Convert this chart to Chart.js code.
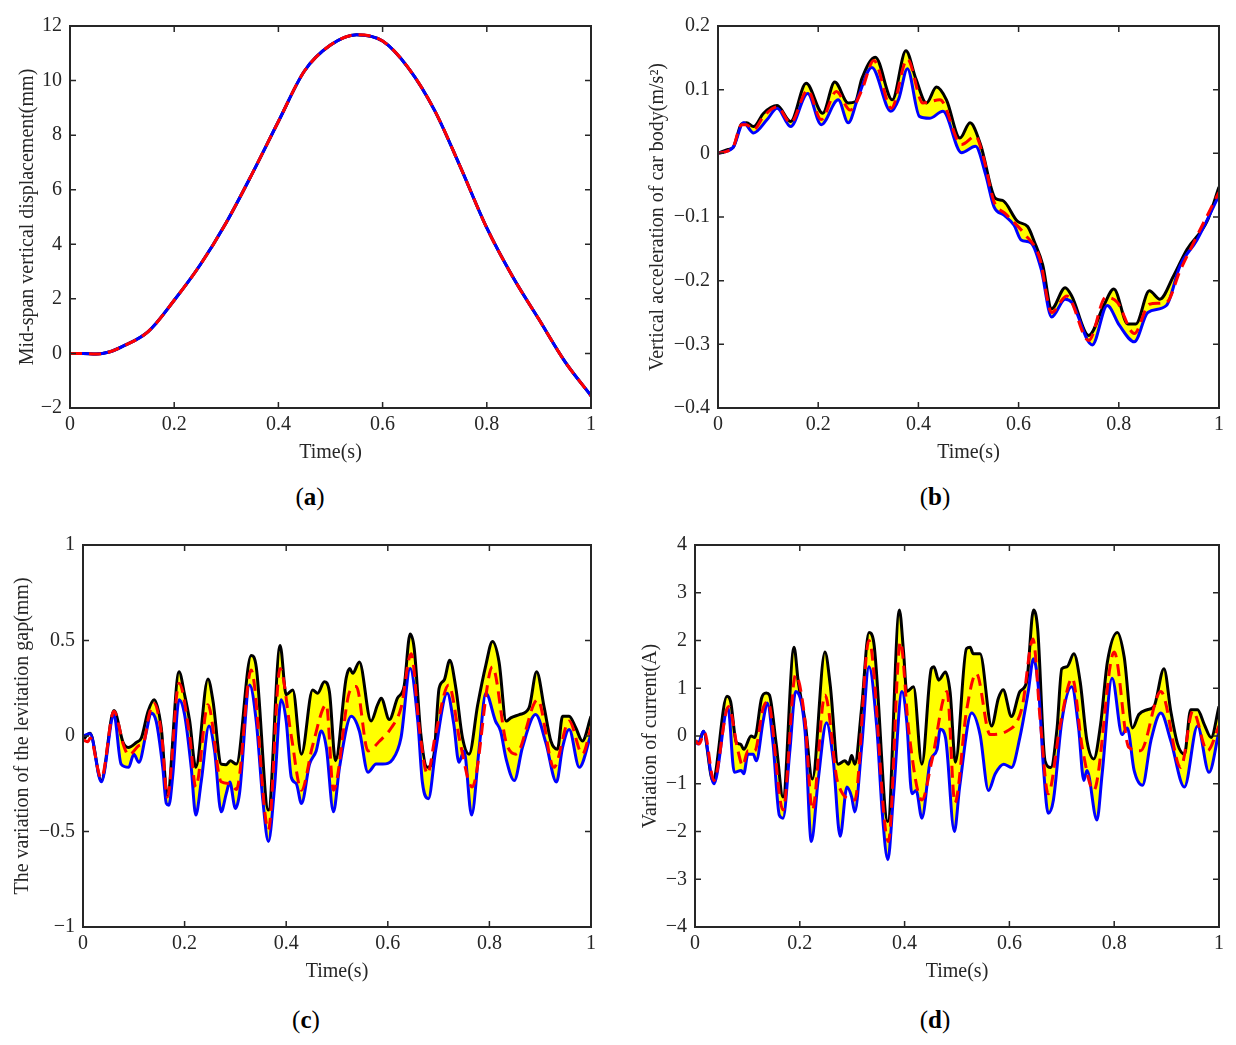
<!DOCTYPE html>
<html>
<head>
<meta charset="utf-8">
<script src="https://cdn.jsdelivr.net/npm/chart.js@4.4.1/dist/chart.umd.min.js"></script>
<style>
  body { margin: 0; background: #fff; width: 1236px; height: 1045px; position: relative; overflow: hidden; font-family: "Liberation Serif", serif; }
  .panel { position: absolute; }
  .tag { position: absolute; font-size: 25px; color: #000; transform: translateX(-50%); line-height: 28px; }
</style>
</head>
<body>
<div class="panel" id="pa"><canvas id="chartA"></canvas></div>
<div class="panel" id="pb"><canvas id="chartB"></canvas></div>
<div class="panel" id="pc"><canvas id="chartC"></canvas></div>
<div class="panel" id="pd"><canvas id="chartD"></canvas></div>
<div class="tag" style="left:310px;top:483px">(<b>a</b>)</div>
<div class="tag" style="left:935px;top:483px">(<b>b</b>)</div>
<div class="tag" style="left:306px;top:1006px">(<b>c</b>)</div>
<div class="tag" style="left:935px;top:1006px">(<b>d</b>)</div>
<script>
// ---- data: [time (s), value] ----
const timeTicks = [0, 0.2, 0.4, 0.6, 0.8, 1];
const dispTicks = [-2, 0, 2, 4, 6, 8, 10, 12];
const accTicks = [-0.4, -0.3, -0.2, -0.1, 0, 0.1, 0.2];
const gapTicks = [-1, -0.5, 0, 0.5, 1];
const currTicks = [-4, -3, -2, -1, 0, 1, 2, 3, 4];

// (a) mid-span displacement: upper, lower and mean coincide
const dispMean = [[0,0],[0.025,0],[0.05,-0.02],[0.075,0.05],[0.1,0.25],[0.15,0.8],[0.2,1.95],[0.25,3.25],[0.3,4.8],[0.35,6.6],[0.4,8.5],[0.45,10.35],[0.5,11.3],[0.55,11.68],[0.6,11.45],[0.65,10.45],[0.7,8.9],[0.75,6.8],[0.8,4.6],[0.85,2.8],[0.9,1.25],[0.95,-0.3],[1,-1.55]];

// (b) vertical acceleration of car body
const accUpper = [[0,0],[0.02,0.006],[0.03,0.009],[0.047,0.046],[0.057,0.048],[0.071,0.042],[0.091,0.063],[0.118,0.075],[0.145,0.05],[0.176,0.11],[0.209,0.063],[0.233,0.112],[0.26,0.079],[0.274,0.081],[0.287,0.117],[0.314,0.151],[0.348,0.084],[0.375,0.161],[0.395,0.117],[0.416,0.079],[0.436,0.104],[0.456,0.084],[0.483,0.024],[0.503,0.048],[0.524,0.014],[0.554,-0.071],[0.568,-0.074],[0.598,-0.107],[0.618,-0.115],[0.632,-0.14],[0.648,-0.175],[0.666,-0.244],[0.693,-0.211],[0.706,-0.224],[0.74,-0.286],[0.77,-0.239],[0.79,-0.213],[0.818,-0.268],[0.834,-0.268],[0.861,-0.216],[0.882,-0.229],[0.909,-0.193],[0.936,-0.151],[0.976,-0.107],[1,-0.053]];
const accLower = [[0,0],[0.03,0.009],[0.051,0.048],[0.071,0.032],[0.098,0.053],[0.118,0.071],[0.145,0.042],[0.179,0.094],[0.206,0.045],[0.24,0.084],[0.26,0.048],[0.28,0.089],[0.307,0.135],[0.345,0.066],[0.361,0.086],[0.378,0.133],[0.402,0.058],[0.422,0.055],[0.449,0.066],[0.486,0.001],[0.514,0.011],[0.534,-0.033],[0.551,-0.084],[0.571,-0.097],[0.591,-0.113],[0.605,-0.136],[0.625,-0.141],[0.645,-0.182],[0.666,-0.257],[0.693,-0.229],[0.706,-0.234],[0.747,-0.301],[0.777,-0.239],[0.801,-0.27],[0.831,-0.296],[0.858,-0.25],[0.895,-0.239],[0.922,-0.177],[0.956,-0.136],[1,-0.066]];
const accMean = [[0,0],[0.02,0.004],[0.03,0.009],[0.047,0.045],[0.057,0.045],[0.071,0.037],[0.091,0.058],[0.118,0.073],[0.145,0.048],[0.179,0.099],[0.206,0.053],[0.236,0.097],[0.264,0.068],[0.287,0.099],[0.311,0.146],[0.346,0.071],[0.378,0.148],[0.409,0.079],[0.443,0.084],[0.486,0.014],[0.514,0.027],[0.53,-0.007],[0.551,-0.076],[0.574,-0.095],[0.611,-0.126],[0.642,-0.164],[0.666,-0.25],[0.696,-0.224],[0.74,-0.294],[0.774,-0.226],[0.797,-0.234],[0.831,-0.283],[0.861,-0.237],[0.895,-0.234],[0.922,-0.185],[0.949,-0.141],[1,-0.061]];

// (c) variation of the levitation gap
const gapUpper = [[0,-0.02],[0.014,0.014],[0.036,-0.233],[0.061,0.133],[0.079,-0.034],[0.089,-0.06],[0.105,-0.034],[0.115,-0.009],[0.128,0.129],[0.14,0.19],[0.154,0.043],[0.166,-0.31],[0.189,0.336],[0.2,0.216],[0.21,0.078],[0.222,-0.164],[0.246,0.298],[0.256,0.181],[0.272,-0.147],[0.282,-0.15],[0.29,-0.13],[0.302,-0.147],[0.331,0.422],[0.341,0.362],[0.365,-0.388],[0.388,0.474],[0.4,0.216],[0.413,0.241],[0.43,-0.095],[0.452,0.241],[0.462,0.224],[0.475,0.284],[0.485,0.233],[0.497,-0.129],[0.518,0.302],[0.525,0.353],[0.531,0.328],[0.544,0.388],[0.567,0.078],[0.58,0.164],[0.587,0.198],[0.603,0.086],[0.619,0.198],[0.632,0.259],[0.644,0.534],[0.652,0.457],[0.665,0.009],[0.678,-0.164],[0.691,-0.095],[0.701,0.25],[0.711,0.293],[0.722,0.397],[0.734,0.25],[0.747,-0.009],[0.76,-0.095],[0.777,0.164],[0.793,0.371],[0.806,0.495],[0.819,0.388],[0.833,0.078],[0.842,0.095],[0.859,0.112],[0.878,0.147],[0.893,0.336],[0.908,0.147],[0.921,-0.026],[0.934,-0.069],[0.944,0.103],[0.957,0.103],[0.97,0.043],[0.983,-0.026],[1,0.103]];
const gapLower = [[0,0],[0.014,0.012],[0.036,-0.24],[0.061,0.11],[0.075,-0.147],[0.09,-0.164],[0.1,-0.095],[0.11,-0.138],[0.125,0.026],[0.134,0.121],[0.144,0.078],[0.157,-0.164],[0.164,-0.353],[0.169,-0.362],[0.177,-0.198],[0.189,0.19],[0.2,0.112],[0.213,-0.164],[0.222,-0.414],[0.233,-0.233],[0.248,0.052],[0.259,-0.078],[0.272,-0.397],[0.282,-0.302],[0.289,-0.241],[0.3,-0.379],[0.308,-0.302],[0.328,0.267],[0.341,0.078],[0.354,-0.336],[0.365,-0.552],[0.377,-0.267],[0.39,0.19],[0.4,0.078],[0.41,-0.216],[0.42,-0.25],[0.43,-0.353],[0.446,-0.147],[0.459,-0.078],[0.469,0.026],[0.479,-0.06],[0.493,-0.397],[0.505,-0.164],[0.528,0.103],[0.544,0.026],[0.561,-0.19],[0.577,-0.147],[0.59,-0.147],[0.61,-0.121],[0.626,-0.009],[0.644,0.353],[0.659,0.078],[0.668,-0.241],[0.68,-0.328],[0.694,-0.078],[0.717,0.224],[0.73,0.06],[0.74,-0.138],[0.75,-0.078],[0.765,-0.414],[0.78,-0.06],[0.793,0.224],[0.812,0.078],[0.822,0.026],[0.833,-0.121],[0.849,-0.233],[0.865,-0.06],[0.891,0.112],[0.911,-0.034],[0.932,-0.241],[0.944,-0.06],[0.957,0.034],[0.977,-0.164],[1,0.009]];
const gapMean = [[0,-0.02],[0.01,-0.03],[0.014,-0.01],[0.036,-0.22],[0.061,0.13],[0.08,-0.05],[0.09,-0.1],[0.11,-0.05],[0.12,-0.03],[0.13,0.11],[0.14,0.17],[0.155,0],[0.166,-0.32],[0.189,0.276],[0.21,0],[0.222,-0.267],[0.246,0.164],[0.272,-0.24],[0.29,-0.25],[0.302,-0.28],[0.331,0.345],[0.365,-0.491],[0.388,0.353],[0.41,0],[0.43,-0.284],[0.452,-0.05],[0.479,0.164],[0.493,-0.284],[0.525,0.233],[0.538,0.259],[0.561,-0.078],[0.584,-0.026],[0.607,0.043],[0.626,0.147],[0.646,0.431],[0.662,0.043],[0.678,-0.198],[0.694,0.009],[0.72,0.267],[0.743,-0.043],[0.766,-0.267],[0.806,0.362],[0.833,-0.034],[0.852,-0.095],[0.895,0.19],[0.927,-0.164],[0.957,0.078],[0.983,-0.095],[1,0.043]];

// (d) variation of current
const currUpper = [[0,-0.1],[0.008,-0.14],[0.016,0.1],[0.034,-0.93],[0.061,0.83],[0.068,0.72],[0.079,-0.14],[0.087,-0.17],[0.093,-0.28],[0.107,0],[0.114,-0.03],[0.127,0.79],[0.136,0.9],[0.142,0.86],[0.155,-0.17],[0.168,-1.28],[0.189,1.86],[0.197,1.14],[0.21,0.31],[0.224,-0.9],[0.248,1.76],[0.258,1.07],[0.273,-0.59],[0.286,-0.52],[0.293,-0.59],[0.299,-0.41],[0.305,-0.59],[0.318,0.59],[0.332,2.17],[0.341,1.97],[0.368,-1.79],[0.39,2.64],[0.398,1.76],[0.404,0.93],[0.417,1.03],[0.433,-0.59],[0.451,1.41],[0.456,1.45],[0.465,1.17],[0.478,1.34],[0.487,0.9],[0.497,-0.55],[0.518,1.83],[0.525,1.86],[0.531,1.72],[0.544,1.72],[0.566,0.21],[0.579,0.79],[0.588,0.97],[0.604,0.41],[0.62,0.93],[0.633,1.14],[0.646,2.64],[0.654,2.24],[0.668,-0.52],[0.679,-0.66],[0.691,0.17],[0.7,1.41],[0.71,1.45],[0.723,1.72],[0.735,1.14],[0.748,-0.1],[0.761,-0.48],[0.774,0.24],[0.787,1.55],[0.806,2.17],[0.819,1.66],[0.835,0.17],[0.847,0.45],[0.863,0.55],[0.876,0.62],[0.895,1.41],[0.908,0.52],[0.921,-0.17],[0.934,-0.38],[0.946,0.55],[0.959,0.55],[0.972,0.24],[0.985,-0.03],[1,0.62]];
const currLower = [[0,-0.1],[0.006,-0.17],[0.016,0.1],[0.036,-1],[0.063,0.59],[0.075,-0.76],[0.088,-0.72],[0.093,-0.79],[0.101,-0.38],[0.111,-0.38],[0.117,-0.52],[0.13,0.31],[0.138,0.69],[0.149,-0.17],[0.161,-1.66],[0.168,-1.72],[0.181,-0.31],[0.192,0.93],[0.21,0.1],[0.222,-2.21],[0.235,-0.93],[0.251,0.28],[0.264,-0.52],[0.277,-2.1],[0.29,-1.07],[0.299,-1.28],[0.305,-1.59],[0.318,-0.24],[0.332,1.45],[0.347,0.17],[0.357,-1.55],[0.368,-2.59],[0.379,-1.21],[0.395,0.93],[0.404,0.31],[0.414,-1.21],[0.422,-1.14],[0.433,-1.72],[0.449,-0.52],[0.462,-0.28],[0.468,0.14],[0.478,-0.03],[0.495,-2],[0.505,-1.07],[0.528,0.48],[0.544,0.03],[0.56,-1.14],[0.573,-0.79],[0.589,-0.59],[0.604,-0.66],[0.62,-0.03],[0.636,0.93],[0.646,1.62],[0.656,0.93],[0.665,-0.66],[0.674,-1.62],[0.684,-1.34],[0.7,0.31],[0.719,1.03],[0.732,0.17],[0.742,-0.93],[0.748,-0.72],[0.767,-1.76],[0.777,-0.79],[0.796,1.21],[0.815,0.03],[0.825,0.17],[0.838,-0.72],[0.854,-1.03],[0.87,-0.1],[0.889,0.48],[0.908,-0.1],[0.934,-1.07],[0.959,0.21],[0.981,-0.76],[1,0.1]];
const currMean = [[0,-0.1],[0.008,-0.17],[0.018,0.07],[0.036,-0.93],[0.064,0.62],[0.082,-0.31],[0.091,-0.62],[0.101,-0.31],[0.114,-0.31],[0.13,0.59],[0.139,0.72],[0.168,-1.55],[0.192,1.28],[0.21,0.31],[0.224,-1.55],[0.248,0.86],[0.273,-1],[0.305,-1.34],[0.332,2],[0.369,-2.21],[0.392,1.97],[0.408,0.1],[0.433,-1.34],[0.452,-0.52],[0.481,0.93],[0.496,-1.4],[0.518,0.52],[0.537,1.31],[0.563,0.03],[0.595,0.1],[0.624,0.59],[0.645,2.03],[0.659,0.31],[0.674,-1.21],[0.697,0.24],[0.72,1.21],[0.739,-0.24],[0.761,-1.14],[0.8,1.76],[0.828,-0.24],[0.85,-0.31],[0.889,0.93],[0.927,-0.66],[0.95,0.52],[0.978,-0.31],[1,0.21]];

// ---- layout: plot box in page pixels, width kept for the y axis ----
const PAD_TOP = 14, PAD_RIGHT = 14, X_AXIS_H = 57;
const FONT = '"Liberation Serif", "Times New Roman", serif';
const INK = '#262626';

const boxPlugin = {
  id: 'matlabBox',
  afterDraw(chart) {
    const { ctx, chartArea: a, scales: { x, y } } = chart;
    ctx.save();
    ctx.strokeStyle = INK;
    ctx.lineWidth = 1.5;
    ctx.beginPath();
    x.ticks.forEach(t => {
      const px = x.getPixelForValue(t.value);
      ctx.moveTo(px, a.bottom); ctx.lineTo(px, a.bottom - 6);
      ctx.moveTo(px, a.top); ctx.lineTo(px, a.top + 6);
    });
    y.ticks.forEach(t => {
      const py = y.getPixelForValue(t.value);
      ctx.moveTo(a.left, py); ctx.lineTo(a.left + 6, py);
      ctx.moveTo(a.right, py); ctx.lineTo(a.right - 6, py);
    });
    ctx.stroke();
    ctx.lineWidth = 2;
    ctx.strokeRect(a.left, a.top, a.right - a.left, a.bottom - a.top);
    ctx.restore();
  }
};

const fmt = v => (v < 0 ? '\u2212' : '') + Math.abs(v);
const toXY = pts => pts.map(([x, y]) => ({ x, y }));

function makePanel(divId, canvasId, box, yTicks, yTitle, upper, lower, mean) {
  const div = document.getElementById(divId);
  div.style.left = (box.left - box.yw) + 'px';
  div.style.top = (box.top - PAD_TOP) + 'px';
  div.style.width = (box.yw + box.right - box.left + PAD_RIGHT) + 'px';
  div.style.height = (PAD_TOP + box.bottom - box.top + X_AXIS_H) + 'px';

  const line = { pointRadius: 0, cubicInterpolationMode: 'monotone', borderWidth: 3 };
  const noGrid = { display: false, drawTicks: false, tickLength: 0 };
  return new Chart(document.getElementById(canvasId), {
    type: 'line',
    data: {
      datasets: [
        { ...line, data: toXY(upper), borderColor: '#000000', backgroundColor: '#ffff00', fill: 1, order: 3 },
        { ...line, data: toXY(lower), borderColor: '#0000ff', fill: false, order: 2 },
        { ...line, data: toXY(mean), borderColor: '#ff0000', borderDash: [12, 7], fill: false, order: 1 }
      ]
    },
    options: {
      responsive: true,
      maintainAspectRatio: false,
      animation: false,
      layout: { padding: { top: PAD_TOP, right: PAD_RIGHT, left: 0, bottom: 0 } },
      plugins: {
        legend: { display: false },
        tooltip: { enabled: false },
        filler: { drawTime: 'beforeDatasetsDraw' }
      },
      scales: {
        x: {
          type: 'linear', min: 0, max: 1,
          grid: noGrid,
          border: { display: false },
          afterBuildTicks: s => { s.ticks = timeTicks.map(v => ({ value: v })); },
          afterFit: s => { s.height = X_AXIS_H; },
          ticks: { font: { family: FONT, size: 20 }, color: INK, padding: 5, maxRotation: 0, callback: fmt },
          title: { display: true, text: 'Time(s)', font: { family: FONT, size: 20 }, color: INK, padding: 0 }
        },
        y: {
          type: 'linear', min: yTicks[0], max: yTicks[yTicks.length - 1],
          grid: noGrid,
          border: { display: false },
          afterBuildTicks: s => { s.ticks = yTicks.map(v => ({ value: v })); },
          afterFit: s => { s.width = box.yw; },
          ticks: { font: { family: FONT, size: 20 }, color: INK, padding: 8, callback: fmt },
          title: { display: true, text: yTitle, font: { family: FONT, size: 20 }, color: INK, padding: 0 }
        }
      }
    },
    plugins: [boxPlugin]
  });
}

makePanel('pa', 'chartA', { left: 70, right: 591, top: 20, bottom: 408, yw: 54 }, dispTicks,
  'Mid-span vertical displacement(mm)', dispMean, dispMean, dispMean);
makePanel('pb', 'chartB', { left: 718, right: 1219, top: 20, bottom: 408, yw: 72 }, accTicks,
  'Vertical acceleration of car body(m/s\u00b2)', accUpper, accLower, accMean);
makePanel('pc', 'chartC', { left: 83, right: 591, top: 539, bottom: 927, yw: 72 }, gapTicks,
  'The variation of the levitation gap(mm)', gapUpper, gapLower, gapMean);
makePanel('pd', 'chartD', { left: 695, right: 1219, top: 539, bottom: 927, yw: 56 }, currTicks,
  'Variation of current(A)', currUpper, currLower, currMean);
</script>
</body>
</html>
